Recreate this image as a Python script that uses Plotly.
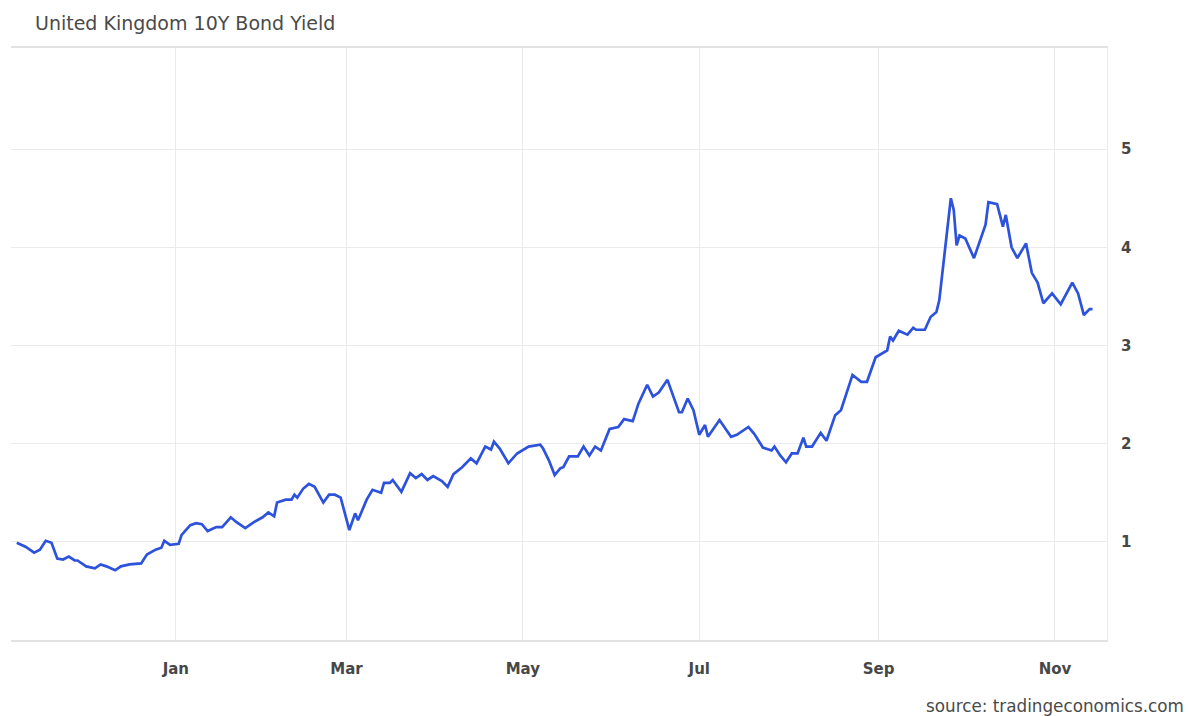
import plotly.graph_objects as go

# ---- data (UK 10Y gilt yield, %) ----
dates = [
    "2021-11-07", "2021-11-10", "2021-11-13", "2021-11-15", "2021-11-17", "2021-11-19",
    "2021-11-21", "2021-11-23", "2021-11-25", "2021-11-27", "2021-11-28",
    "2021-12-01", "2021-12-04", "2021-12-06", "2021-12-08", "2021-12-11", "2021-12-13",
    "2021-12-16", "2021-12-20", "2021-12-22", "2021-12-25", "2021-12-27", "2021-12-28",
    "2021-12-30",
    "2022-01-02", "2022-01-03", "2022-01-06", "2022-01-08", "2022-01-10", "2022-01-12",
    "2022-01-15", "2022-01-17", "2022-01-20", "2022-01-22", "2022-01-25", "2022-01-28",
    "2022-01-31",
    "2022-02-02", "2022-02-04", "2022-02-05", "2022-02-08", "2022-02-10", "2022-02-11",
    "2022-02-12", "2022-02-14", "2022-02-16", "2022-02-18", "2022-02-21", "2022-02-23",
    "2022-02-25", "2022-02-27",
    "2022-03-02", "2022-03-04", "2022-03-05", "2022-03-08", "2022-03-10", "2022-03-13",
    "2022-03-14", "2022-03-16", "2022-03-17", "2022-03-20", "2022-03-23", "2022-03-25",
    "2022-03-27", "2022-03-29", "2022-03-31",
    "2022-04-03", "2022-04-05", "2022-04-07", "2022-04-10", "2022-04-13", "2022-04-15",
    "2022-04-18", "2022-04-20", "2022-04-21", "2022-04-23", "2022-04-26", "2022-04-29",
    "2022-05-03", "2022-05-07", "2022-05-08", "2022-05-10", "2022-05-12", "2022-05-14",
    "2022-05-15", "2022-05-17", "2022-05-20", "2022-05-22", "2022-05-24", "2022-05-26",
    "2022-05-28", "2022-05-31",
    "2022-06-03", "2022-06-05", "2022-06-08", "2022-06-10", "2022-06-13", "2022-06-15",
    "2022-06-17", "2022-06-20", "2022-06-24", "2022-06-25", "2022-06-27", "2022-06-29",
    "2022-07-01", "2022-07-03", "2022-07-04", "2022-07-08", "2022-07-12", "2022-07-14",
    "2022-07-18", "2022-07-20", "2022-07-23", "2022-07-26", "2022-07-27", "2022-07-29",
    "2022-07-31",
    "2022-08-02", "2022-08-04", "2022-08-06", "2022-08-07", "2022-08-09", "2022-08-12",
    "2022-08-14", "2022-08-17", "2022-08-19", "2022-08-23", "2022-08-26", "2022-08-28",
    "2022-08-31",
    "2022-09-04", "2022-09-05", "2022-09-06", "2022-09-08", "2022-09-11", "2022-09-13",
    "2022-09-14", "2022-09-17", "2022-09-19", "2022-09-21", "2022-09-22", "2022-09-24",
    "2022-09-26", "2022-09-27", "2022-09-28", "2022-09-29",
    "2022-10-01", "2022-10-04", "2022-10-06", "2022-10-08", "2022-10-09", "2022-10-12",
    "2022-10-14", "2022-10-15", "2022-10-17", "2022-10-19", "2022-10-22", "2022-10-24",
    "2022-10-26", "2022-10-28", "2022-10-31",
    "2022-11-03", "2022-11-07", "2022-11-09", "2022-11-11", "2022-11-13", "2022-11-14",
]

yields = [
    0.99, 0.95, 0.89, 0.92, 1.01, 0.99,
    0.83, 0.82, 0.85, 0.81, 0.81,
    0.75, 0.73, 0.77, 0.75, 0.71, 0.75,
    0.77, 0.78, 0.87, 0.92, 0.94, 1.01,
    0.97,
    0.98, 1.07, 1.17, 1.19, 1.18, 1.11,
    1.15, 1.15, 1.25, 1.20, 1.14, 1.20,
    1.25,
    1.30, 1.26, 1.40, 1.43, 1.43, 1.48,
    1.45, 1.54, 1.59, 1.56, 1.40, 1.48,
    1.48, 1.45,
    1.12, 1.29, 1.22, 1.43, 1.53, 1.50,
    1.60, 1.60, 1.63, 1.51, 1.70, 1.65,
    1.69, 1.63, 1.67,
    1.62, 1.56, 1.69, 1.76, 1.85, 1.80,
    1.97, 1.94, 2.02, 1.95, 1.80, 1.90,
    1.97, 1.99, 1.95, 1.83, 1.68, 1.75,
    1.76, 1.87, 1.87, 1.97, 1.88, 1.97,
    1.93, 2.15,
    2.17, 2.25, 2.23, 2.41, 2.60, 2.48,
    2.52, 2.65, 2.32, 2.32, 2.46, 2.34,
    2.09, 2.19, 2.07, 2.24, 2.07, 2.09,
    2.17, 2.10, 1.96, 1.93, 1.97, 1.88,
    1.81,
    1.90, 1.90, 2.06, 1.97, 1.97, 2.11,
    2.03, 2.29, 2.34, 2.70, 2.63, 2.63,
    2.88,
    2.95, 3.09, 3.05, 3.15, 3.11, 3.18,
    3.16, 3.16, 3.29, 3.34, 3.46, 4.00,
    4.50, 4.38, 4.02, 4.12,
    4.09, 3.89, 4.07, 4.23, 4.46, 4.44,
    4.21, 4.33, 4.00, 3.89, 4.04, 3.74,
    3.64, 3.43, 3.53,
    3.42, 3.64, 3.53, 3.31, 3.37, 3.37,
]

y_ticks = [1, 2, 3, 4, 5]
title_text = "United Kingdom 10Y Bond Yield"
source_text = "source: tradingeconomics.com"

FONT = "DejaVu Sans"

fig = go.Figure()
fig.add_trace(go.Scatter(
    x=dates, y=yields, mode="lines",
    line=dict(color="#2d52dc", width=2.7),
    hoverinfo="skip", showlegend=False,
))

fig.update_layout(
    width=1189, height=716,
    margin=dict(l=11, r=82, t=48, b=76),
    paper_bgcolor="white", plot_bgcolor="white",
    title=dict(text=title_text, x=35 / 1189, xanchor="left", xref="container",
               y=1 - 23 / 716, yanchor="middle", yref="container",
               font=dict(family=FONT, size=19, color="#4a4a4a")),
    showlegend=False,
)

fig.update_xaxes(
    type="date",
    range=["2021-11-05", "2022-11-19"],
    tick0="2022-01-01", dtick="M2", tickformat="%b",
    showgrid=True, gridcolor="#ebebeb", gridwidth=1,
    showline=True, mirror=True, linecolor="#e2e2e2", linewidth=2,
    zeroline=False, ticks="",
    ticklabelstandoff=14,
    tickfont=dict(family=FONT, size=15, color="#474747", weight="bold"),
)

fig.update_yaxes(
    side="right",
    range=[0, 6.03],
    tickvals=y_ticks, ticktext=[str(v) for v in y_ticks],
    showgrid=True, gridcolor="#ebebeb", gridwidth=1,
    showline=True, linecolor="#ebebeb", linewidth=1,
    zeroline=False, ticks="",
    ticklabelstandoff=10,
    tickfont=dict(family=FONT, size=15, color="#474747", weight="bold"),
)

fig.add_annotation(
    text=source_text, xref="paper", yref="paper",
    x=(1186 - 11) / 1096, y=(640 - 706) / 592,
    xanchor="right", yanchor="middle", showarrow=False,
    font=dict(family=FONT, size=16.8, color="#4a4a4a"),
)

fig.write_html(
    "out.html",
    config={"displayModeBar": False},
    post_script="document.body.style.margin='0';document.body.style.overflow='hidden';",
)
